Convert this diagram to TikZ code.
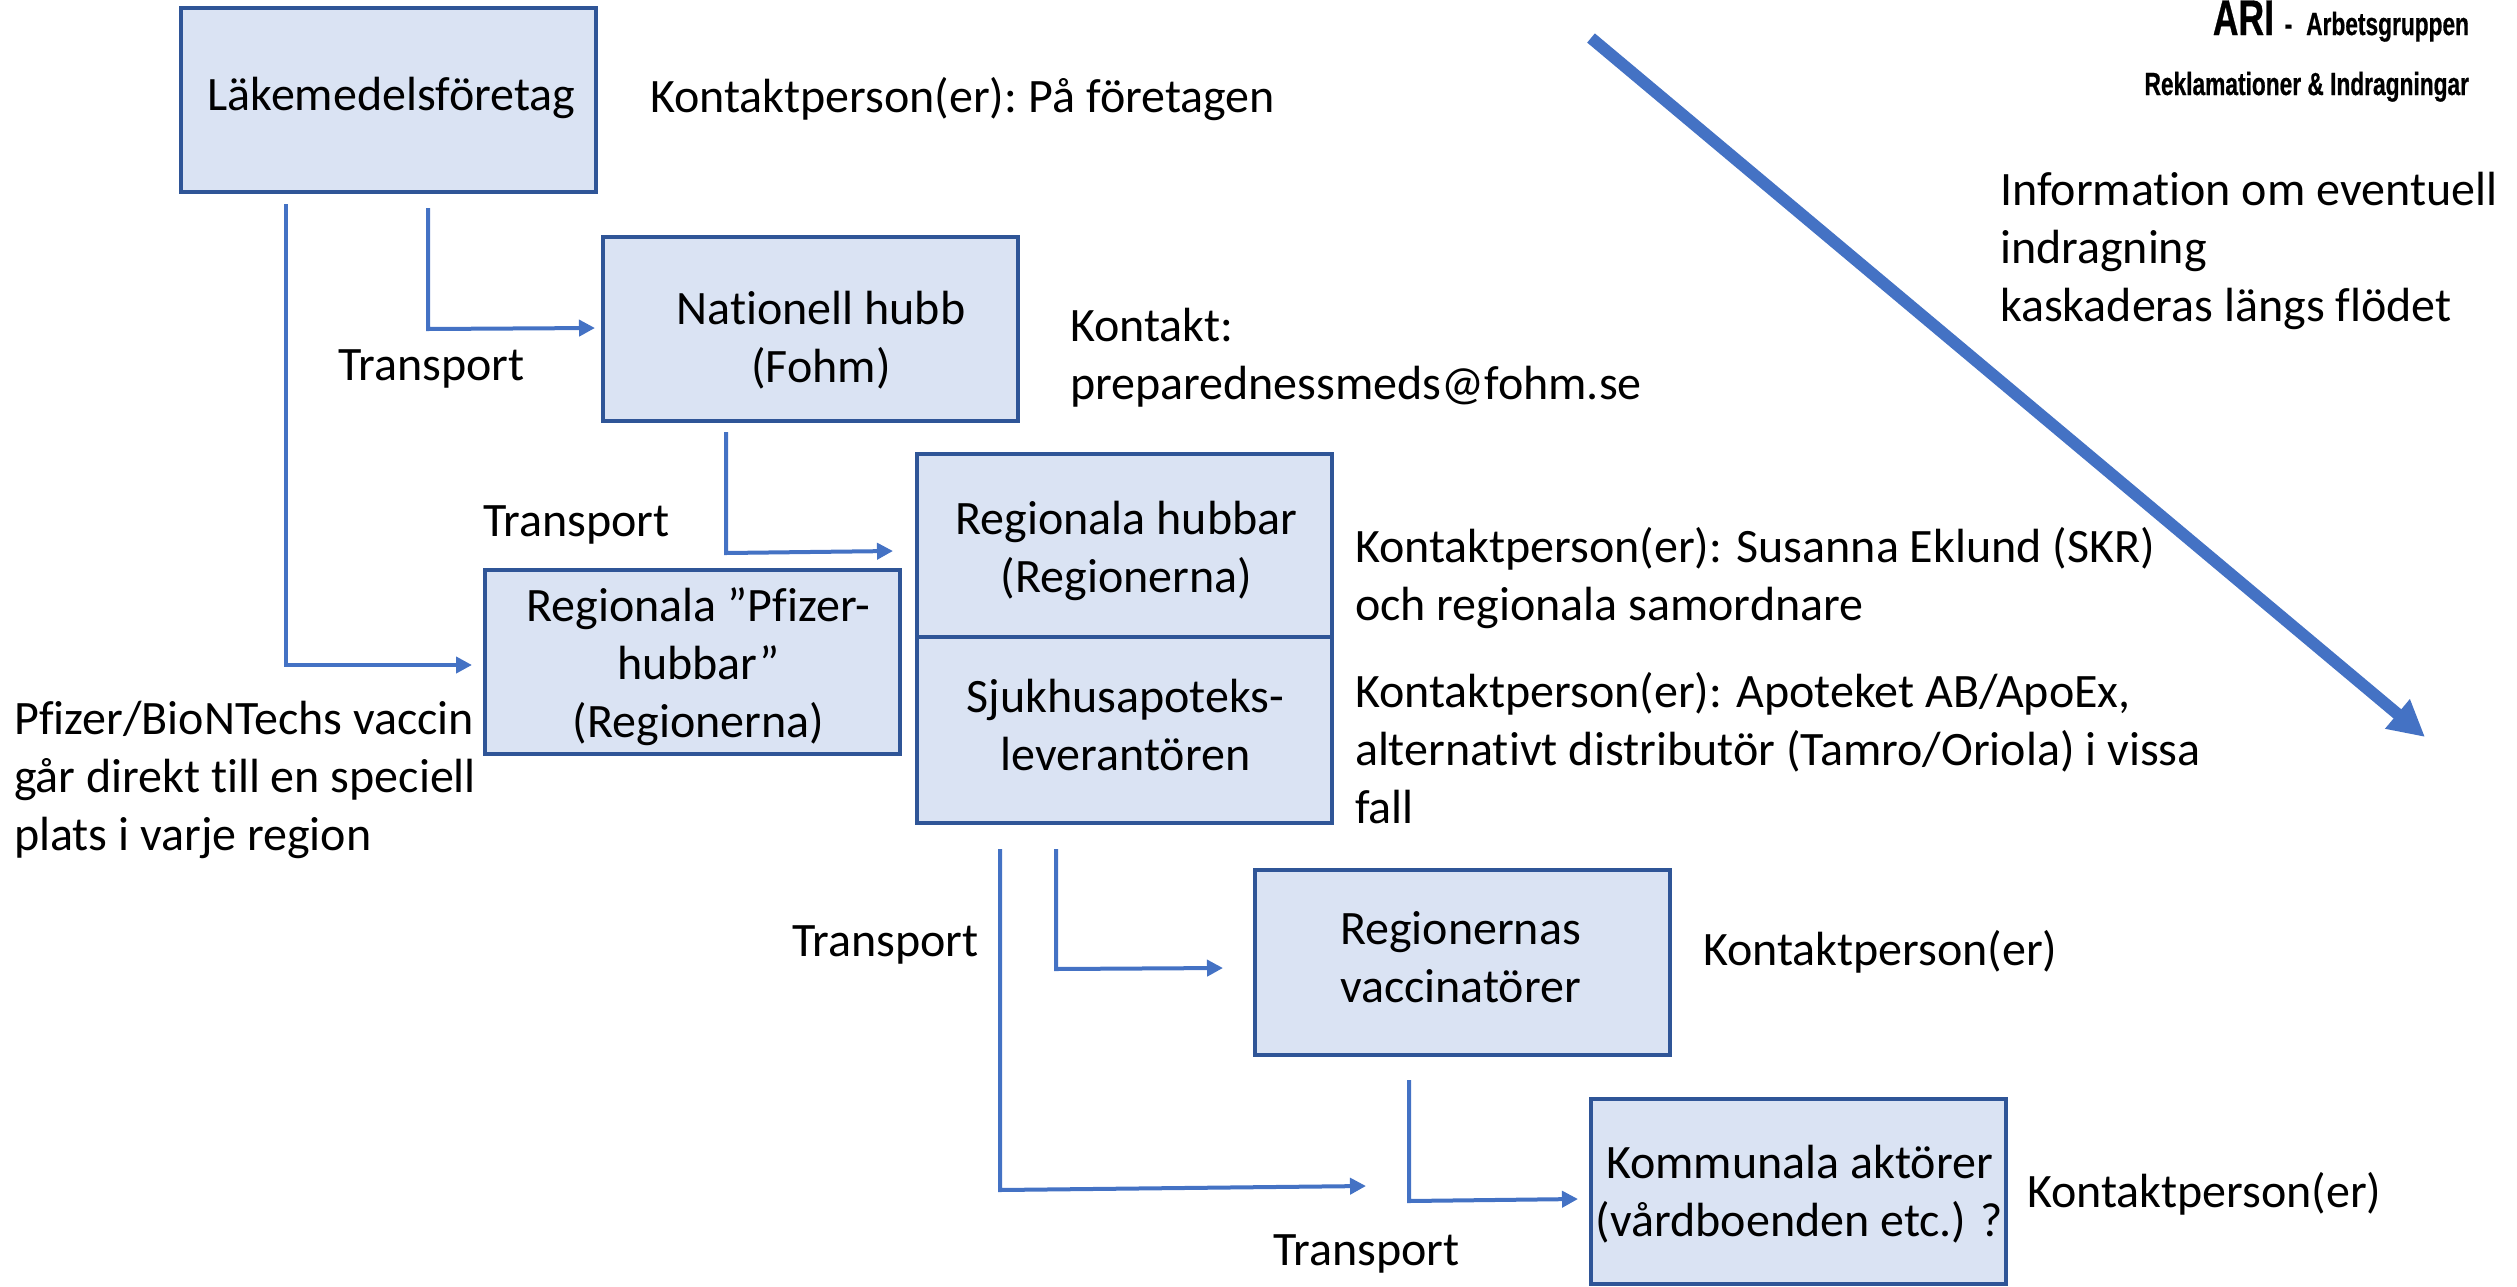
\documentclass[tikz,border=0pt]{standalone}
\usepackage{fontspec}
\setmainfont[Ligatures=NoCommon]{Carlito}
\newfontfamily\headfont[FakeStretch=0.71,FakeBold=0.6]{Liberation Sans Bold}
\usetikzlibrary{arrows.meta}
\definecolor{boxfill}{HTML}{DAE3F3}
\definecolor{boxline}{HTML}{2F5597}
\definecolor{flow}{HTML}{4472C4}
\tikzset{
  x=1pt,y=-1pt,
  every node/.style={inner sep=0pt,outer sep=0pt},
  stage/.style={draw=boxline,fill=boxfill,line width=4pt},
  stagetext/.style={align=center,font=\fontsize{48}{58}\selectfont},
  lbl/.style={anchor=north west,align=left,font=\fontsize{48}{58}\selectfont},
  flowline/.style={draw=flow,line width=4pt,-{Triangle[length=16pt,width=16pt]}},
  bigarrow/.style={draw=flow,line width=12pt,-{Triangle[length=36pt,width=36pt]}}
}
\begin{document}
\begin{tikzpicture}
\useasboundingbox (0,0) rectangle (2517,1286);
\node[stage,minimum width=415pt,minimum height=184pt] (lake) at (388.5,100) {};
\node[stage,minimum width=415pt,minimum height=184pt] (nat) at (810,328.5) {};
\node[stage,minimum width=415pt,minimum height=183pt] (reghub) at (1124.5,545.5) {};
\node[stage,minimum width=415pt,minimum height=186pt] (sjuk) at (1124.5,730) {};
\node[stage,minimum width=415pt,minimum height=184pt] (pf) at (692.5,662) {};
\node[stage,minimum width=415pt,minimum height=185pt] (vacc) at (1462.5,962.5) {};
\node[stage,minimum width=415pt,minimum height=185pt] (kom) at (1798.5,1191.5) {};
\node[stagetext] (laketext) at ([shift={(3,-2)}]lake.center) {Läkemedelsföretag};
\node[stagetext] (nattext) at ([shift={(11,12)}]nat.center) {Nationell hubb\\(Fohm)};
\node[stagetext] (reghubtext) at ([shift={(2,5)}]reghub.center) {Regionala hubbar\\(Regionerna)};
\node[stagetext] (sjuktext) at ([shift={(1,-5)}]sjuk.center) {Sjukhusapoteks-\\leverantören};
\node[stagetext] (pftext) at ([shift={(6,5)}]pf.center) {Regionala ”Pfizer-\\hubbar”\\(Regionerna)};
\node[stagetext] (vacctext) at ([shift={(-2,-5)}]vacc.center) {Regionernas\\vaccinatörer};
\node[stagetext] (komtext) at ([shift={(1,3)}]kom.center) {Kommunala aktörer\\(vårdboenden etc.) ?};

\coordinate (a1s) at (428,208); \coordinate (a1m) at (428,329); \coordinate (a1e) at (595,328);
\coordinate (a2s) at (286,204); \coordinate (a2m) at (286,665); \coordinate (a2e) at (472,665);
\coordinate (a3s) at (726,432); \coordinate (a3m) at (726,553); \coordinate (a3e) at (893,551);
\coordinate (a4s) at (1000,849); \coordinate (a4m) at (1000,1190); \coordinate (a4e) at (1366,1186);
\coordinate (a5s) at (1056,849); \coordinate (a5m) at (1056,969); \coordinate (a5e) at (1223,968);
\coordinate (a6s) at (1409,1080); \coordinate (a6m) at (1409,1201); \coordinate (a6e) at (1578,1199);
\draw[flowline] (a1s) -- (a1m) -- (a1e);
\draw[flowline] (a2s) -- (a2m) -- (a2e);
\draw[flowline] (a3s) -- (a3m) -- (a3e);
\draw[flowline] (a4s) -- (a4m) -- (a4e);
\draw[flowline] (a5s) -- (a5m) -- (a5e);
\draw[flowline] (a6s) -- (a6m) -- (a6e);
\coordinate (bs) at (1591,38); \coordinate (be) at (2425,737);
\draw[bigarrow] (bs) -- (be);

\node[lbl] (t1) at (650,77) {Kontaktperson(er):\kern-3pt{} På företagen};
\node[lbl] (t2) at (338,350) {Transport};
\node[lbl] (t3) at (1070,308) {Kontakt:\\preparednessmeds@fohm.se};
\node[lbl] (t4) at (483,506) {Transport};
\node[lbl] (t5) at (1355,527) {Kontaktperson(er): Susanna Eklund (SKR)\\och regionala samordnare};
\node[lbl] (t6) at (1355,672) {Kontaktperson(er): Apoteket AB/ApoEx,\\alternativt distributör (Tamro/Oriola) i vissa\\fall};
\node[lbl] (t7) at (14,701) {Pfizer/BioNTechs vaccin\\går direkt till en speciell\\plats i varje region};
\node[lbl] (t8) at (792,926) {Transport};
\node[lbl] (t9) at (1703,930) {Kontaktperson(er)};
\node[lbl] (t10) at (1273,1235) {Transport};
\node[lbl] (t11) at (2027,1172) {Kontaktperson(er)};
\node[lbl] (t12) at (2000,172) {Information om eventuell\\indragning\\kaskaderas längs flödet};
\node[anchor=base east,font=\headfont\fontsize{50}{50}\selectfont] (h1) at (2274,35) {ARI};
\node[anchor=base east,font=\headfont\fontsize{32}{32}\selectfont] (h2) at (2469,35) {-\hspace{14pt}Arbetsgruppen};
\node[anchor=base east,font=\headfont\fontsize{32}{32}\selectfont] (h3) at (2469,95) {Reklamationer \& Indragningar};
\end{tikzpicture}
\end{document}
